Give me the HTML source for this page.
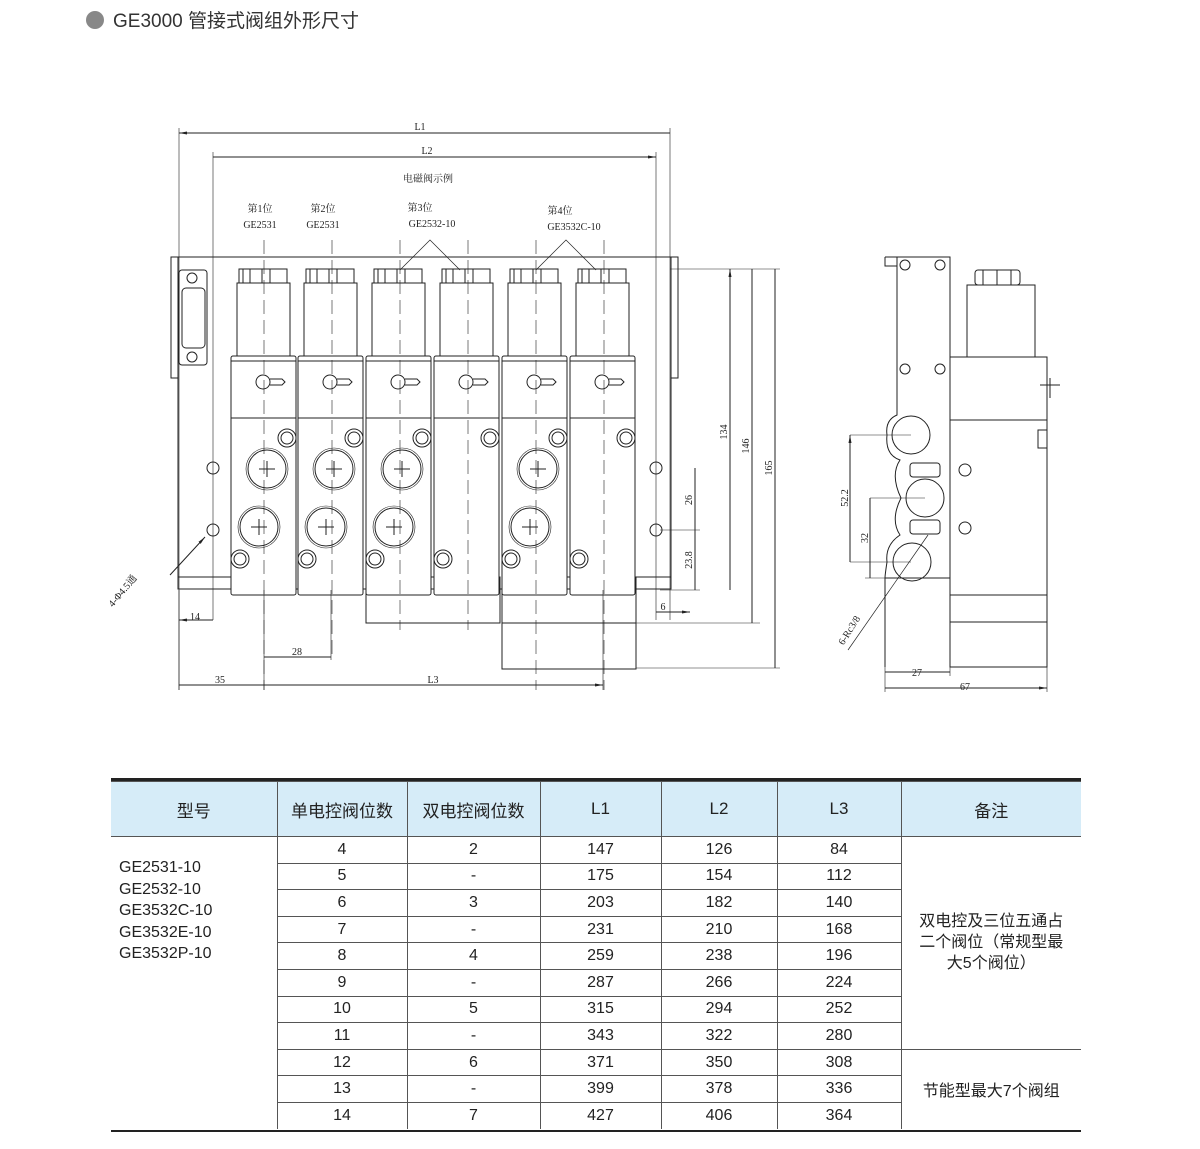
<!DOCTYPE html>
<html><head><meta charset="utf-8"><style>
body{margin:0;background:#fff;width:1200px;height:1149px;overflow:hidden;position:relative;font-family:"Liberation Sans","Noto Sans CJK SC",sans-serif}
.t{position:absolute;left:111px;top:780px;border-collapse:collapse;font-size:16px;color:#222}
.t td{border:1px solid #555;text-align:center;padding:0;height:25.6px}
.t tr.h td{background:#d6ecf8;height:54px;font-size:17px}
</style></head><body>
<svg width="1200" height="1149" style="position:absolute;left:0;top:0" font-family="Liberation Serif,'Noto Serif CJK SC',serif">
<circle cx="95" cy="20" r="9" fill="#888"/>
<text x="113" y="27" font-family="Liberation Sans,'Noto Sans CJK SC',sans-serif" font-size="19" fill="#333">GE3000 管接式阀组外形尺寸</text>
<defs><marker id="a" markerWidth="8" markerHeight="6" refX="8" refY="3" orient="auto-start-reverse"><path d="M0,1.5L8,3L0,4.5z" fill="#222"/></marker></defs>
<g stroke="#222" fill="none" stroke-width="1">
<!-- dims top -->
<path d="M179,133H670M213,157H656" marker-start="url(#a)" marker-end="url(#a)"/>
<path d="M179,128V690M670,128V620M213,152V620M656,152V620" stroke-width="0.6"/>
<!-- plate -->
<rect x="171" y="257" width="7" height="121"/><rect x="671" y="257" width="7" height="121"/>
<path d="M178,257H671M178,257V589H671V257M178,577H231M636,577H671"/>
<rect x="179" y="270" width="28" height="95" rx="3"/><rect x="182" y="288" width="23" height="60" rx="4"/>
<circle cx="192" cy="278" r="5"/><circle cx="192" cy="357" r="5"/>
<circle cx="213" cy="468" r="6"/><circle cx="213" cy="530" r="6"/><circle cx="656" cy="468" r="6"/><circle cx="656" cy="530" r="6"/>
<!-- bottom boxes -->
<rect x="366" y="577" width="134" height="46"/><rect x="502" y="577" width="134" height="46"/><rect x="502" y="623" width="134" height="46"/>
<!-- valves -->
<g id="v1"><rect x="231" y="356" width="65" height="239" rx="2" fill="#fff"/><path d="M231,361H296M231,418H296"/><rect x="237" y="283" width="53" height="73"/><rect x="239" y="269" width="48" height="14"/><path d="M243,269v14M250,269v14M262,269v14M270,269v14"/><circle cx="263" cy="382" r="7"/><path d="M270,379h12l3,3l-3,3h-12"/><circle cx="287" cy="438" r="6"/><circle cx="287" cy="438" r="9"/><circle cx="240" cy="559" r="6"/><circle cx="240" cy="559" r="9"/></g>
<use href="#v1" x="67"/><use href="#v1" x="135"/><use href="#v1" x="203"/><use href="#v1" x="271"/><use href="#v1" x="339"/>
<g id="p"><circle cx="267" cy="469" r="19"/><circle cx="267" cy="469" r="21" stroke-width="0.6"/><path d="M259,469h16M267,461v16"/><circle cx="259" cy="527" r="19"/><circle cx="259" cy="527" r="21" stroke-width="0.6"/><path d="M251,527h16M259,519v16"/></g>
<use href="#p" x="67"/><use href="#p" x="135"/><use href="#p" x="271"/>
<path d="M264,240V690M332,240V660M400,240V630M468,240V630M536,240V690M604,240V690" stroke-dasharray="14,6" stroke-width="0.6"/>
<path d="M400,270L430,240L460,270M536,270L566,240L596,270" stroke-width="0.7"/>
<path d="M670,269H780M636,623H760M636,668H780M660,590H700M660,530H700" stroke-width="0.6"/>
<path d="M730,269V590M752,269V623M775,269V668M695,468V530M695,530V590M656,612H690" marker-start="url(#a)" marker-end="url(#a)"/>
<path d="M179,620H213M264,657H331M179,685H264M264,685H603" marker-start="url(#a)" marker-end="url(#a)"/>
<path d="M264,590V690M331,590V660M603,590V690M179,590V690" stroke-width="0.6"/>
<path d="M170,575L205,537" marker-end="url(#a)"/>
<!-- side view -->
<path d="M885,257H950V578M897,257V410M885,257V266H897M950,357H1047V667H950V578H885V667M950,595H1047M950,622H1047"/>
<rect x="967" y="285" width="68" height="72"/><rect x="975" y="270" width="45" height="15" rx="3"/><path d="M983,270v15M997,270v15M1011,270v15M950,420H1047"/>
<circle cx="905" cy="265" r="5"/><circle cx="940" cy="265" r="5"/><circle cx="905" cy="369" r="5"/><circle cx="940" cy="369" r="5"/>
<path d="M897,410V415Q885,420 887,435Q885,455 900,460Q890,475 901,498Q890,520 900,535Q885,545 887,562Q885,575 885,578"/>
<circle cx="911" cy="435" r="19"/><circle cx="925" cy="498" r="19"/><circle cx="912" cy="562" r="19"/>
<rect x="910" y="463" width="30" height="14" rx="3"/><rect x="910" y="520" width="30" height="14" rx="3"/>
<circle cx="965" cy="470" r="6"/><circle cx="965" cy="528" r="6"/><rect x="1038" y="430" width="9" height="18"/><path d="M1040,385h20M1050,378v20"/>
<path d="M850,435H911M870,498H925M850,562H911M865,578H885" stroke-width="0.6"/>
<path d="M850,435V562M870,498V578M885,672H950M885,688H1047" marker-start="url(#a)" marker-end="url(#a)"/>
<path d="M885,578V692M950,667V676M1047,667V692" stroke-width="0.6"/>
<path d="M848,650L928,535" stroke-width="0.7"/>
</g>
<g font-size="10" fill="#222" text-anchor="middle">
<text x="420" y="130">L1</text><text x="427" y="154">L2</text><text x="428" y="182">电磁阀示例</text>
<text x="260" y="212">第1位</text><text x="260" y="228">GE2531</text><text x="323" y="212">第2位</text><text x="323" y="228">GE2531</text>
<text x="420" y="211">第3位</text><text x="432" y="227">GE2532-10</text><text x="560" y="214">第4位</text><text x="574" y="230">GE3532C-10</text>
<text x="195" y="620">14</text><text x="297" y="655">28</text><text x="220" y="683">35</text><text x="433" y="683">L3</text><text x="663" y="610">6</text>
<text transform="translate(727,432) rotate(-90)">134</text><text transform="translate(749,446) rotate(-90)">146</text><text transform="translate(772,468) rotate(-90)">165</text>
<text transform="translate(692,500) rotate(-90)">26</text><text transform="translate(692,560) rotate(-90)">23.8</text>
<text transform="translate(125,593) rotate(-50)">4-Φ4.5通</text>
<text transform="translate(848,498) rotate(-90)">52.2</text><text transform="translate(868,538) rotate(-90)">32</text>
<text transform="translate(852,632) rotate(-58)">6-Rc3/8</text>
<text x="917" y="676">27</text><text x="965" y="690">67</text>
</g>
</svg>
<div style="position:absolute;left:111px;top:778px;width:970px;height:3px;background:#222"></div>
<div style="position:absolute;left:111px;top:1130px;width:970px;height:2px;background:#222"></div>
<table class="t" style="width:970px;top:781px">
<colgroup><col style="width:166px"><col style="width:130px"><col style="width:133px"><col style="width:121px"><col style="width:116px"><col style="width:124px"><col style="width:180px"></colgroup>
<tr class="h"><td style="border-left:none">型号</td><td>单电控阀位数</td><td>双电控阀位数</td><td>L1</td><td>L2</td><td>L3</td><td style="border-right:none">备注</td></tr>
<tr><td rowspan="11" style="border-left:none;border-bottom:none;text-align:left;vertical-align:top;padding:20px 0 0 8px;line-height:21.5px">GE2531-10<br>GE2532-10<br>GE3532C-10<br>GE3532E-10<br>GE3532P-10</td><td>4</td><td>2</td><td>147</td><td>126</td><td>84</td><td rowspan="8" style="border-right:none;line-height:21px">双电控及三位五通占<br>二个阀位（常规型最<br>大5个阀位）</td></tr>
<tr><td>5</td><td>-</td><td>175</td><td>154</td><td>112</td></tr>
<tr><td>6</td><td>3</td><td>203</td><td>182</td><td>140</td></tr>
<tr><td>7</td><td>-</td><td>231</td><td>210</td><td>168</td></tr>
<tr><td>8</td><td>4</td><td>259</td><td>238</td><td>196</td></tr>
<tr><td>9</td><td>-</td><td>287</td><td>266</td><td>224</td></tr>
<tr><td>10</td><td>5</td><td>315</td><td>294</td><td>252</td></tr>
<tr><td>11</td><td>-</td><td>343</td><td>322</td><td>280</td></tr>
<tr><td>12</td><td>6</td><td>371</td><td>350</td><td>308</td><td rowspan="3" style="border-right:none;border-bottom:none">节能型最大7个阀组</td></tr>
<tr><td>13</td><td>-</td><td>399</td><td>378</td><td>336</td></tr>
<tr><td style="border-bottom:none">14</td><td style="border-bottom:none">7</td><td style="border-bottom:none">427</td><td style="border-bottom:none">406</td><td style="border-bottom:none">364</td></tr>
</table>
</body></html>
